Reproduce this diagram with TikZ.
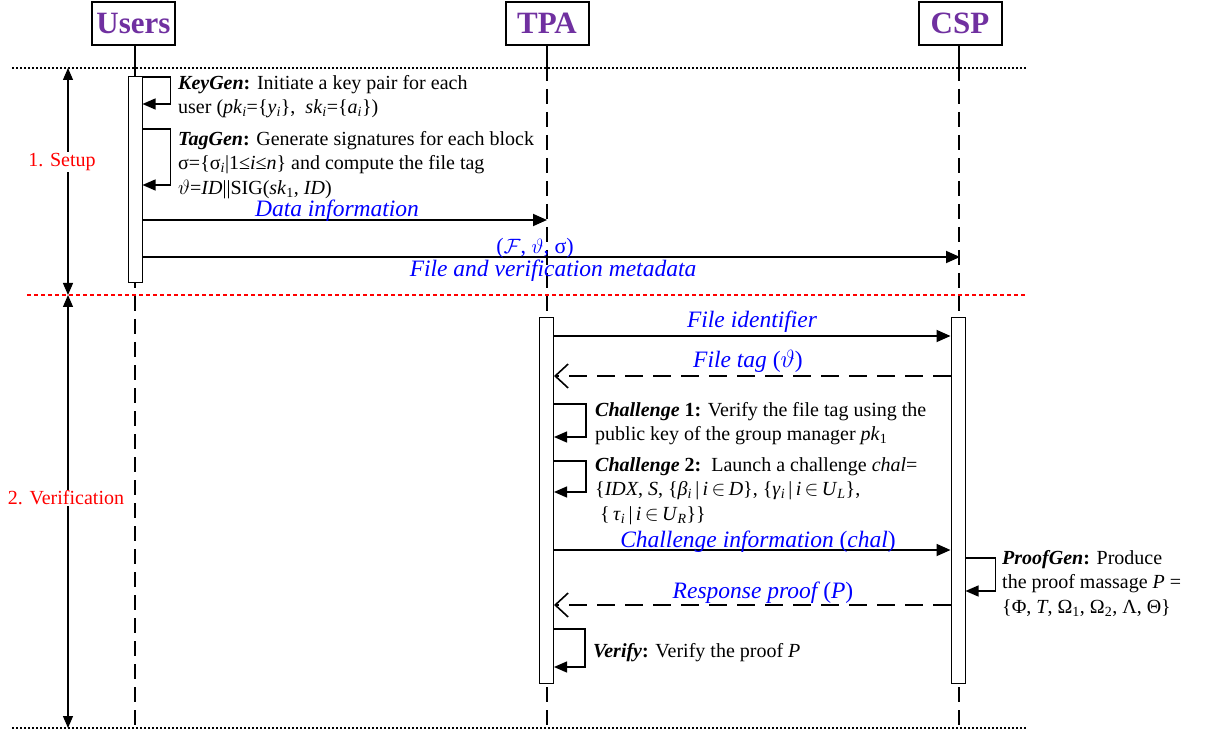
\documentclass[tikz,border=0pt]{standalone}
\usepackage{fontspec}
\setmainfont{Liberation Serif}
\usetikzlibrary{arrows.meta}
\definecolor{ppl}{RGB}{112,48,160}
\newcommand\myi[1]{\textit{#1}}
\newcommand\mysb[1]{\textsubscript{#1}}
\begin{document}
\begin{tikzpicture}[x=1pt,y=-1pt,
  actor/.style={draw, line width=2pt, minimum width=83, minimum height=43, inner sep=0,
    font=\fontsize{31}{33}\selectfont\bfseries, text=ppl},
  lifeline/.style={line width=1.8pt, dash pattern=on 15pt off 8pt},
  stub/.style={line width=1.8pt},
  actbar/.style={draw, fill=white, line width=1pt, minimum width=14, inner sep=0},
  msg/.style={line width=1.8pt, -{Triangle[length=14pt,width=12pt]}},
  ret/.style={line width=1.6pt, dash pattern=on 18pt off 10pt, -{Straight Barb[length=13pt,width=24pt,line width=1.6pt]}},
  selfloop/.style={line width=1.3pt, -{Triangle[length=13pt,width=11pt]}},
  lbl/.style={text=blue, font=\fontsize{23.5}{25}\selectfont\itshape, anchor=base, inner sep=0},
  desc/.style={font=\fontsize{20}{24.5}\selectfont, align=left, anchor=north west, inner sep=0},
  phase/.style={text=red, font=\fontsize{20}{22}\selectfont, fill=white, inner sep=1pt},
  sep/.style={line width=2pt, dash pattern=on 2pt off 2pt},
  redsep/.style={line width=1.8pt, red, dash pattern=on 4pt off 3pt},
  span/.style={line width=1.2pt, {Triangle[length=12pt,width=10pt]}-{Triangle[length=12pt,width=10pt]}}
]
\useasboundingbox (0,0) rectangle (1205,735);

% actors
\node[actor] (users) at (133.5,23.5) {Users};
\node[actor] (tpa) at (547,23.5) {TPA};
\node[actor] (csp) at (960,23.5) {CSP};

% lifelines
\coordinate (uend) at (135,730);
\coordinate (tend) at (547,730);
\coordinate (cend) at (959,730);
\draw[stub] (users.south -| uend) -- (uend |- 0,66);
\draw[lifeline] (uend |- 0,66) -- (uend);
\draw[stub] (tpa.south -| tend) -- (tend |- 0,66);
\draw[lifeline] (tend |- 0,66) -- (tend);
\draw[stub] (csp.south -| cend) -- (cend |- 0,66);
\draw[lifeline] (cend |- 0,66) -- (cend);

% separators
\coordinate (sepL) at (12,68);
\coordinate (sepR) at (1027,68);
\draw[sep] (sepL) -- (sepR);
\coordinate (rsepL) at (27,295);
\coordinate (rsepR) at (1027,295);
\draw[redsep] (rsepL) -- (rsepR);
\coordinate (bsepL) at (12,728);
\coordinate (bsepR) at (1027,728);
\draw[sep] (bsepL) -- (bsepR);

% phase spans
\coordinate (p0) at (68,68);
\coordinate (p1) at (68,295);
\coordinate (p2) at (68,728);
\draw[span] (p0) -- (p1);
\draw[span] (p1) -- (p2);
\node[phase] (setup) at (62,162) {1. Setup};
\node[phase] (verif) at (66,498) {2. Verification};

% activation bars
\node[actbar, minimum height=206] (uact) at (135,180) {};
\node[actbar, minimum height=365] (tact) at (546.5,500.5) {};
\node[actbar, minimum height=365] (cact) at (958,500.5) {};

% Users self loops
\draw[selfloop] (uact.east |- 0,77) -- ++(28,0) |- (uact.east |- 0,104);
\node[desc] (keygen) at (178,75) {\textbf{\myi{KeyGen}:} Initiate a key pair for each\\
user (\myi{pk}\mysb{\myi{i}}=\{\myi{y}\mysb{\myi{i}}\},\ \ \myi{sk}\mysb{\myi{i}}=\{\myi{a}\mysb{\myi{i}}\})};
\draw[selfloop] (uact.east |- 0,129) -- ++(28,0) |- (uact.east |- 0,185);
\node[desc] (taggen) at (178,131) {\textbf{\myi{TagGen}:} Generate signatures for each block\\
σ=\{σ\mysb{\myi{i}}|1≤\myi{i}≤\myi{n}\} and compute the file tag\\
$\vartheta$=\myi{ID}||SIG(\myi{sk}\mysb{1}, \myi{ID})};

% setup messages
\draw[msg] (uact.east |- 0,220) -- (tpa |- 0,220);
\node[lbl] (l1) at (337,217) {Data information};
\draw[msg] (uact.east |- 0,257) -- (csp |- 0,257);
\node[lbl, font=\fontsize{22}{24}\selectfont] (l2) at (535,254) {($\mathcal{F}$, $\vartheta$, σ)};
\node[lbl] (l3) at (553,277) {File and verification metadata};

% verification messages
\draw[msg] (tact.east |- 0,336) -- (cact.west |- 0,336);
\node[lbl] (l4) at (752,328) {File identifier};
\draw[ret] (cact.west |- 0,376) -- (tact.east |- 0,376);
\node[lbl] (l5) at (748,367) {File tag \upshape($\vartheta$)};

\draw[selfloop] (tact.east |- 0,404) -- ++(32,0) |- (tact.east |- 0,437);
\node[desc] (ch1) at (595,402) {\textbf{\myi{Challenge} 1:} Verify the file tag using the\\
public key of the group manager \myi{pk}\mysb{1}};
\draw[selfloop] (tact.east |- 0,461) -- ++(32,0) |- (tact.east |- 0,492);
\node[desc] (ch2) at (595,457) {\textbf{\myi{Challenge} 2:}\ \ Launch a challenge \myi{chal}=\\
\{\myi{IDX}, \myi{S}, \{\myi{β}\mysb{\myi{i}}\,|\,\myi{i}\,$\in$\,\myi{D}\}, \{\myi{γ}\mysb{\myi{i}}\,|\,\myi{i}\,$\in$\,\myi{U}\mysb{\myi{L}}\},\\
\ \{\,\myi{τ}\mysb{\myi{i}}\,|\,\myi{i}\,$\in$\,\myi{U}\mysb{\myi{R}}\}\}};

\draw[msg] (tact.east |- 0,550) -- (cact.west |- 0,550);
\node[lbl] (l6) at (758,547) {Challenge information \upshape(\itshape chal\upshape)};

\draw[selfloop] (cact.east |- 0,558) -- ++(30,0) |- (cact.east |- 0,591);
\node[desc] (pg) at (1002,550) {\textbf{\myi{ProofGen}:} Produce\\
the proof massage \myi{P} =\\
\{Φ, \myi{T}, Ω\mysb{1}, Ω\mysb{2}, Λ, Θ\}};

\draw[ret] (cact.west |- 0,605) -- (tact.east |- 0,605);
\node[lbl] (l7) at (763,598) {Response proof \upshape(\itshape P\upshape)};

\draw[selfloop] (tact.east |- 0,629) -- ++(31,0) |- (tact.east |- 0,667);
\node[desc] (vf) at (593,643) {\textbf{\myi{Verify}:} Verify the proof \myi{P}};
\end{tikzpicture}
\end{document}
